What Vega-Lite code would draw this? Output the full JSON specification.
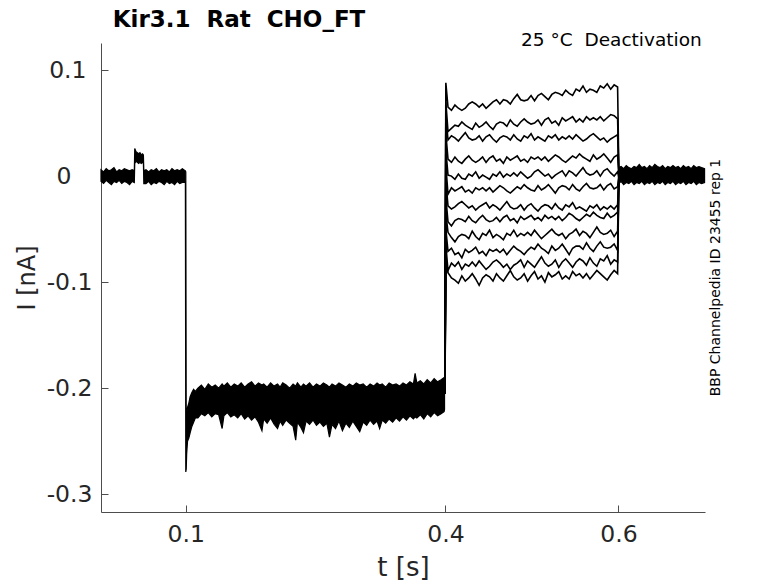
{
  "$schema": "https://vega.github.io/schema/vega-lite/v6.json",
  "width": 604,
  "height": 469,
  "autosize": {"type": "none"},
  "padding": {"left": 101, "top": 43, "right": 73, "bottom": 71},
  "background": "white",
  "config": {
    "view": {"stroke": null},
    "axis": {
      "grid": false,
      "domainColor": "#4d4d4d",
      "domainWidth": 1,
      "tickColor": "#4d4d4d",
      "tickWidth": 1,
      "tickSize": -7,
      "labelFont": "DejaVu Sans",
      "labelFontSize": 23.5,
      "labelColor": "#262626",
      "labelFlush": false,
      "labelOverlap": false,
      "titleFont": "DejaVu Sans",
      "titleFontSize": 24,
      "titleFontWeight": "normal",
      "titleColor": "#262626"
    },
    "axisX": {"labelPadding": 17, "titlePadding": 9, "titleFontSize": 26},
    "axisY": {"titlePadding": 7}
  },
  "datasets": {
    "band": [
      {"seg": "pre", "t": 0.002, "lo": -0.005, "hi": 0.006},
      {"seg": "pre", "t": 0.005, "lo": -0.007, "hi": 0.004},
      {"seg": "pre", "t": 0.008, "lo": -0.004, "hi": 0.007},
      {"seg": "pre", "t": 0.011, "lo": -0.006, "hi": 0.005},
      {"seg": "pre", "t": 0.014, "lo": -0.008, "hi": 0.006},
      {"seg": "pre", "t": 0.017, "lo": -0.005, "hi": 0.008},
      {"seg": "pre", "t": 0.020, "lo": -0.006, "hi": 0.004},
      {"seg": "pre", "t": 0.023, "lo": -0.004, "hi": 0.006},
      {"seg": "pre", "t": 0.026, "lo": -0.007, "hi": 0.005},
      {"seg": "pre", "t": 0.029, "lo": -0.005, "hi": 0.007},
      {"seg": "pre", "t": 0.032, "lo": -0.006, "hi": 0.006},
      {"seg": "pre", "t": 0.035, "lo": -0.008, "hi": 0.005},
      {"seg": "pre", "t": 0.038, "lo": -0.005, "hi": 0.006},
      {"seg": "pre", "t": 0.0405, "lo": -0.006, "hi": 0.005},
      {"seg": "pre", "t": 0.041, "lo": 0.012, "hi": 0.026},
      {"seg": "pre", "t": 0.0425, "lo": 0.014, "hi": 0.023},
      {"seg": "pre", "t": 0.044, "lo": 0.013, "hi": 0.022},
      {"seg": "pre", "t": 0.0455, "lo": 0.012, "hi": 0.021},
      {"seg": "pre", "t": 0.047, "lo": 0.013, "hi": 0.022},
      {"seg": "pre", "t": 0.0485, "lo": 0.012, "hi": 0.020},
      {"seg": "pre", "t": 0.050, "lo": 0.013, "hi": 0.021},
      {"seg": "pre", "t": 0.051, "lo": 0.012, "hi": 0.020},
      {"seg": "pre", "t": 0.0515, "lo": -0.007, "hi": 0.005},
      {"seg": "pre", "t": 0.054, "lo": -0.007, "hi": 0.006},
      {"seg": "pre", "t": 0.057, "lo": -0.005, "hi": 0.004},
      {"seg": "pre", "t": 0.060, "lo": -0.008, "hi": 0.006},
      {"seg": "pre", "t": 0.063, "lo": -0.006, "hi": 0.005},
      {"seg": "pre", "t": 0.066, "lo": -0.007, "hi": 0.007},
      {"seg": "pre", "t": 0.069, "lo": -0.005, "hi": 0.004},
      {"seg": "pre", "t": 0.072, "lo": -0.006, "hi": 0.006},
      {"seg": "pre", "t": 0.075, "lo": -0.008, "hi": 0.005},
      {"seg": "pre", "t": 0.078, "lo": -0.005, "hi": 0.006},
      {"seg": "pre", "t": 0.081, "lo": -0.007, "hi": 0.004},
      {"seg": "pre", "t": 0.084, "lo": -0.006, "hi": 0.007},
      {"seg": "pre", "t": 0.087, "lo": -0.008, "hi": 0.005},
      {"seg": "pre", "t": 0.090, "lo": -0.005, "hi": 0.006},
      {"seg": "pre", "t": 0.093, "lo": -0.007, "hi": 0.005},
      {"seg": "pre", "t": 0.096, "lo": -0.006, "hi": 0.007},
      {"seg": "pre", "t": 0.0995, "lo": -0.006, "hi": 0.005},
      {"seg": "pre", "t": 0.100, "lo": -0.279, "hi": 0.004},
      {"seg": "pre", "t": 0.1005, "lo": -0.276, "hi": -0.235},
      {"seg": "pre", "t": 0.101, "lo": -0.262, "hi": -0.224},
      {"seg": "pre", "t": 0.102, "lo": -0.250, "hi": -0.218},
      {"seg": "pre", "t": 0.1035, "lo": -0.247, "hi": -0.214},
      {"seg": "pre", "t": 0.105, "lo": -0.242, "hi": -0.208},
      {"seg": "pre", "t": 0.107, "lo": -0.236, "hi": -0.204},
      {"seg": "pre", "t": 0.109, "lo": -0.232, "hi": -0.201},
      {"seg": "pre", "t": 0.111, "lo": -0.228, "hi": -0.203},
      {"seg": "pre", "t": 0.114, "lo": -0.228, "hi": -0.200},
      {"seg": "pre", "t": 0.118, "lo": -0.224, "hi": -0.197},
      {"seg": "pre", "t": 0.122, "lo": -0.226, "hi": -0.201},
      {"seg": "pre", "t": 0.126, "lo": -0.223, "hi": -0.196},
      {"seg": "pre", "t": 0.130, "lo": -0.227, "hi": -0.199},
      {"seg": "pre", "t": 0.134, "lo": -0.224, "hi": -0.197},
      {"seg": "pre", "t": 0.138, "lo": -0.225, "hi": -0.200},
      {"seg": "pre", "t": 0.142, "lo": -0.238, "hi": -0.196},
      {"seg": "pre", "t": 0.144, "lo": -0.226, "hi": -0.198},
      {"seg": "pre", "t": 0.148, "lo": -0.223, "hi": -0.195},
      {"seg": "pre", "t": 0.152, "lo": -0.227, "hi": -0.199},
      {"seg": "pre", "t": 0.156, "lo": -0.225, "hi": -0.196},
      {"seg": "pre", "t": 0.160, "lo": -0.228, "hi": -0.198},
      {"seg": "pre", "t": 0.164, "lo": -0.224, "hi": -0.195},
      {"seg": "pre", "t": 0.168, "lo": -0.229, "hi": -0.199},
      {"seg": "pre", "t": 0.172, "lo": -0.226, "hi": -0.196},
      {"seg": "pre", "t": 0.176, "lo": -0.230, "hi": -0.194},
      {"seg": "pre", "t": 0.180, "lo": -0.227, "hi": -0.198},
      {"seg": "pre", "t": 0.184, "lo": -0.232, "hi": -0.195},
      {"seg": "pre", "t": 0.188, "lo": -0.240, "hi": -0.197},
      {"seg": "pre", "t": 0.190, "lo": -0.229, "hi": -0.196},
      {"seg": "pre", "t": 0.194, "lo": -0.233, "hi": -0.199},
      {"seg": "pre", "t": 0.198, "lo": -0.228, "hi": -0.195},
      {"seg": "pre", "t": 0.202, "lo": -0.234, "hi": -0.198},
      {"seg": "pre", "t": 0.206, "lo": -0.238, "hi": -0.196},
      {"seg": "pre", "t": 0.209, "lo": -0.231, "hi": -0.199},
      {"seg": "pre", "t": 0.212, "lo": -0.235, "hi": -0.195},
      {"seg": "pre", "t": 0.216, "lo": -0.230, "hi": -0.197},
      {"seg": "pre", "t": 0.220, "lo": -0.233, "hi": -0.200},
      {"seg": "pre", "t": 0.224, "lo": -0.236, "hi": -0.196},
      {"seg": "pre", "t": 0.227, "lo": -0.249, "hi": -0.198},
      {"seg": "pre", "t": 0.229, "lo": -0.232, "hi": -0.195},
      {"seg": "pre", "t": 0.233, "lo": -0.237, "hi": -0.199},
      {"seg": "pre", "t": 0.236, "lo": -0.242, "hi": -0.196},
      {"seg": "pre", "t": 0.239, "lo": -0.231, "hi": -0.198},
      {"seg": "pre", "t": 0.243, "lo": -0.234, "hi": -0.195},
      {"seg": "pre", "t": 0.247, "lo": -0.230, "hi": -0.199},
      {"seg": "pre", "t": 0.251, "lo": -0.235, "hi": -0.196},
      {"seg": "pre", "t": 0.255, "lo": -0.232, "hi": -0.198},
      {"seg": "pre", "t": 0.259, "lo": -0.236, "hi": -0.195},
      {"seg": "pre", "t": 0.263, "lo": -0.233, "hi": -0.197},
      {"seg": "pre", "t": 0.266, "lo": -0.246, "hi": -0.199},
      {"seg": "pre", "t": 0.269, "lo": -0.234, "hi": -0.196},
      {"seg": "pre", "t": 0.273, "lo": -0.238, "hi": -0.198},
      {"seg": "pre", "t": 0.277, "lo": -0.231, "hi": -0.195},
      {"seg": "pre", "t": 0.281, "lo": -0.240, "hi": -0.197},
      {"seg": "pre", "t": 0.285, "lo": -0.233, "hi": -0.199},
      {"seg": "pre", "t": 0.289, "lo": -0.237, "hi": -0.196},
      {"seg": "pre", "t": 0.293, "lo": -0.231, "hi": -0.198},
      {"seg": "pre", "t": 0.297, "lo": -0.236, "hi": -0.195},
      {"seg": "pre", "t": 0.301, "lo": -0.241, "hi": -0.197},
      {"seg": "pre", "t": 0.305, "lo": -0.232, "hi": -0.196},
      {"seg": "pre", "t": 0.309, "lo": -0.235, "hi": -0.199},
      {"seg": "pre", "t": 0.313, "lo": -0.230, "hi": -0.196},
      {"seg": "pre", "t": 0.317, "lo": -0.234, "hi": -0.198},
      {"seg": "pre", "t": 0.321, "lo": -0.231, "hi": -0.195},
      {"seg": "pre", "t": 0.324, "lo": -0.238, "hi": -0.197},
      {"seg": "pre", "t": 0.327, "lo": -0.230, "hi": -0.196},
      {"seg": "pre", "t": 0.331, "lo": -0.233, "hi": -0.199},
      {"seg": "pre", "t": 0.335, "lo": -0.229, "hi": -0.195},
      {"seg": "pre", "t": 0.339, "lo": -0.232, "hi": -0.197},
      {"seg": "pre", "t": 0.343, "lo": -0.228, "hi": -0.196},
      {"seg": "pre", "t": 0.347, "lo": -0.231, "hi": -0.198},
      {"seg": "pre", "t": 0.351, "lo": -0.227, "hi": -0.195},
      {"seg": "pre", "t": 0.355, "lo": -0.230, "hi": -0.197},
      {"seg": "pre", "t": 0.359, "lo": -0.226, "hi": -0.194},
      {"seg": "pre", "t": 0.363, "lo": -0.229, "hi": -0.196},
      {"seg": "pre", "t": 0.365, "lo": -0.227, "hi": -0.186},
      {"seg": "pre", "t": 0.367, "lo": -0.228, "hi": -0.195},
      {"seg": "pre", "t": 0.371, "lo": -0.225, "hi": -0.193},
      {"seg": "pre", "t": 0.375, "lo": -0.229, "hi": -0.196},
      {"seg": "pre", "t": 0.379, "lo": -0.224, "hi": -0.192},
      {"seg": "pre", "t": 0.383, "lo": -0.227, "hi": -0.195},
      {"seg": "pre", "t": 0.387, "lo": -0.223, "hi": -0.191},
      {"seg": "pre", "t": 0.391, "lo": -0.226, "hi": -0.194},
      {"seg": "pre", "t": 0.395, "lo": -0.224, "hi": -0.192},
      {"seg": "pre", "t": 0.3985, "lo": -0.222, "hi": -0.190},
      {"seg": "pre", "t": 0.399, "lo": -0.220, "hi": -0.190},
      {"seg": "post", "t": 0.6005, "lo": -0.007, "hi": 0.008},
      {"seg": "post", "t": 0.603, "lo": -0.005, "hi": 0.009},
      {"seg": "post", "t": 0.606, "lo": -0.008, "hi": 0.007},
      {"seg": "post", "t": 0.609, "lo": -0.006, "hi": 0.010},
      {"seg": "post", "t": 0.612, "lo": -0.007, "hi": 0.008},
      {"seg": "post", "t": 0.615, "lo": -0.005, "hi": 0.007},
      {"seg": "post", "t": 0.618, "lo": -0.008, "hi": 0.009},
      {"seg": "post", "t": 0.621, "lo": -0.006, "hi": 0.008},
      {"seg": "post", "t": 0.624, "lo": -0.007, "hi": 0.011},
      {"seg": "post", "t": 0.627, "lo": -0.005, "hi": 0.008},
      {"seg": "post", "t": 0.630, "lo": -0.008, "hi": 0.009},
      {"seg": "post", "t": 0.633, "lo": -0.006, "hi": 0.007},
      {"seg": "post", "t": 0.636, "lo": -0.007, "hi": 0.010},
      {"seg": "post", "t": 0.639, "lo": -0.005, "hi": 0.008},
      {"seg": "post", "t": 0.642, "lo": -0.008, "hi": 0.011},
      {"seg": "post", "t": 0.645, "lo": -0.006, "hi": 0.009},
      {"seg": "post", "t": 0.648, "lo": -0.007, "hi": 0.008},
      {"seg": "post", "t": 0.651, "lo": -0.005, "hi": 0.010},
      {"seg": "post", "t": 0.654, "lo": -0.008, "hi": 0.007},
      {"seg": "post", "t": 0.657, "lo": -0.006, "hi": 0.009},
      {"seg": "post", "t": 0.660, "lo": -0.007, "hi": 0.008},
      {"seg": "post", "t": 0.663, "lo": -0.005, "hi": 0.010},
      {"seg": "post", "t": 0.666, "lo": -0.008, "hi": 0.008},
      {"seg": "post", "t": 0.669, "lo": -0.006, "hi": 0.009},
      {"seg": "post", "t": 0.672, "lo": -0.007, "hi": 0.007},
      {"seg": "post", "t": 0.675, "lo": -0.005, "hi": 0.010},
      {"seg": "post", "t": 0.678, "lo": -0.008, "hi": 0.008},
      {"seg": "post", "t": 0.681, "lo": -0.006, "hi": 0.009},
      {"seg": "post", "t": 0.684, "lo": -0.007, "hi": 0.007},
      {"seg": "post", "t": 0.687, "lo": -0.005, "hi": 0.010},
      {"seg": "post", "t": 0.690, "lo": -0.008, "hi": 0.008},
      {"seg": "post", "t": 0.693, "lo": -0.006, "hi": 0.009},
      {"seg": "post", "t": 0.696, "lo": -0.007, "hi": 0.008},
      {"seg": "post", "t": 0.6995, "lo": -0.006, "hi": 0.007}
    ],
    "pulse": [
      {"k":1,"t":0.3995,"v":-0.205},{"k":1,"t":0.4005,"v":0.088},{"k":1,"t":0.403,"v":0.065},{"k":1,"t":0.407,"v":0.062},{"k":1,"t":0.411,"v":0.067},{"k":1,"t":0.415,"v":0.064},{"k":1,"t":0.419,"v":0.062},{"k":1,"t":0.423,"v":0.064},{"k":1,"t":0.427,"v":0.068},{"k":1,"t":0.431,"v":0.070},{"k":1,"t":0.435,"v":0.068},{"k":1,"t":0.439,"v":0.065},{"k":1,"t":0.443,"v":0.068},{"k":1,"t":0.447,"v":0.064},{"k":1,"t":0.451,"v":0.067},{"k":1,"t":0.455,"v":0.070},{"k":1,"t":0.459,"v":0.072},{"k":1,"t":0.463,"v":0.068},{"k":1,"t":0.467,"v":0.072},{"k":1,"t":0.471,"v":0.071},{"k":1,"t":0.475,"v":0.068},{"k":1,"t":0.479,"v":0.073},{"k":1,"t":0.483,"v":0.077},{"k":1,"t":0.487,"v":0.072},{"k":1,"t":0.491,"v":0.071},{"k":1,"t":0.495,"v":0.072},{"k":1,"t":0.499,"v":0.076},{"k":1,"t":0.503,"v":0.071},{"k":1,"t":0.507,"v":0.076},{"k":1,"t":0.511,"v":0.078},{"k":1,"t":0.515,"v":0.075},{"k":1,"t":0.519,"v":0.072},{"k":1,"t":0.523,"v":0.077},{"k":1,"t":0.527,"v":0.079},{"k":1,"t":0.531,"v":0.078},{"k":1,"t":0.535,"v":0.076},{"k":1,"t":0.539,"v":0.081},{"k":1,"t":0.543,"v":0.078},{"k":1,"t":0.547,"v":0.076},{"k":1,"t":0.551,"v":0.082},{"k":1,"t":0.555,"v":0.080},{"k":1,"t":0.559,"v":0.085},{"k":1,"t":0.563,"v":0.079},{"k":1,"t":0.567,"v":0.082},{"k":1,"t":0.571,"v":0.081},{"k":1,"t":0.575,"v":0.079},{"k":1,"t":0.579,"v":0.085},{"k":1,"t":0.583,"v":0.083},{"k":1,"t":0.587,"v":0.087},{"k":1,"t":0.591,"v":0.082},{"k":1,"t":0.595,"v":0.086},{"k":1,"t":0.599,"v":0.084},{"k":1,"t":0.6005,"v":0.001},
      {"k":2,"t":0.3995,"v":-0.205},{"k":2,"t":0.4005,"v":0.070},{"k":2,"t":0.403,"v":0.042},{"k":2,"t":0.407,"v":0.045},{"k":2,"t":0.411,"v":0.048},{"k":2,"t":0.415,"v":0.047},{"k":2,"t":0.419,"v":0.051},{"k":2,"t":0.423,"v":0.048},{"k":2,"t":0.427,"v":0.046},{"k":2,"t":0.431,"v":0.044},{"k":2,"t":0.435,"v":0.050},{"k":2,"t":0.439,"v":0.046},{"k":2,"t":0.443,"v":0.048},{"k":2,"t":0.447,"v":0.051},{"k":2,"t":0.451,"v":0.047},{"k":2,"t":0.455,"v":0.044},{"k":2,"t":0.459,"v":0.049},{"k":2,"t":0.463,"v":0.051},{"k":2,"t":0.467,"v":0.050},{"k":2,"t":0.471,"v":0.047},{"k":2,"t":0.475,"v":0.053},{"k":2,"t":0.479,"v":0.049},{"k":2,"t":0.483,"v":0.047},{"k":2,"t":0.487,"v":0.051},{"k":2,"t":0.491,"v":0.054},{"k":2,"t":0.495,"v":0.051},{"k":2,"t":0.499,"v":0.049},{"k":2,"t":0.503,"v":0.050},{"k":2,"t":0.507,"v":0.053},{"k":2,"t":0.511,"v":0.048},{"k":2,"t":0.515,"v":0.053},{"k":2,"t":0.519,"v":0.055},{"k":2,"t":0.523,"v":0.050},{"k":2,"t":0.527,"v":0.052},{"k":2,"t":0.531,"v":0.048},{"k":2,"t":0.535,"v":0.055},{"k":2,"t":0.539,"v":0.052},{"k":2,"t":0.543,"v":0.054},{"k":2,"t":0.547,"v":0.056},{"k":2,"t":0.551,"v":0.051},{"k":2,"t":0.555,"v":0.054},{"k":2,"t":0.559,"v":0.051},{"k":2,"t":0.563,"v":0.056},{"k":2,"t":0.567,"v":0.053},{"k":2,"t":0.571,"v":0.055},{"k":2,"t":0.575,"v":0.053},{"k":2,"t":0.579,"v":0.056},{"k":2,"t":0.583,"v":0.052},{"k":2,"t":0.587,"v":0.055},{"k":2,"t":0.591,"v":0.058},{"k":2,"t":0.595,"v":0.057},{"k":2,"t":0.599,"v":0.054},{"k":2,"t":0.6005,"v":-0.001},
      {"k":3,"t":0.3995,"v":-0.205},{"k":3,"t":0.4005,"v":0.058},{"k":3,"t":0.403,"v":0.034},{"k":3,"t":0.407,"v":0.038},{"k":3,"t":0.411,"v":0.036},{"k":3,"t":0.415,"v":0.033},{"k":3,"t":0.419,"v":0.037},{"k":3,"t":0.423,"v":0.041},{"k":3,"t":0.427,"v":0.036},{"k":3,"t":0.431,"v":0.034},{"k":3,"t":0.435,"v":0.035},{"k":3,"t":0.439,"v":0.038},{"k":3,"t":0.443,"v":0.033},{"k":3,"t":0.447,"v":0.037},{"k":3,"t":0.451,"v":0.039},{"k":3,"t":0.455,"v":0.035},{"k":3,"t":0.459,"v":0.032},{"k":3,"t":0.463,"v":0.036},{"k":3,"t":0.467,"v":0.038},{"k":3,"t":0.471,"v":0.037},{"k":3,"t":0.475,"v":0.034},{"k":3,"t":0.479,"v":0.039},{"k":3,"t":0.483,"v":0.035},{"k":3,"t":0.487,"v":0.033},{"k":3,"t":0.491,"v":0.038},{"k":3,"t":0.495,"v":0.036},{"k":3,"t":0.499,"v":0.040},{"k":3,"t":0.503,"v":0.034},{"k":3,"t":0.507,"v":0.037},{"k":3,"t":0.511,"v":0.035},{"k":3,"t":0.515,"v":0.033},{"k":3,"t":0.519,"v":0.038},{"k":3,"t":0.523,"v":0.036},{"k":3,"t":0.527,"v":0.039},{"k":3,"t":0.531,"v":0.034},{"k":3,"t":0.535,"v":0.037},{"k":3,"t":0.539,"v":0.035},{"k":3,"t":0.543,"v":0.038},{"k":3,"t":0.547,"v":0.035},{"k":3,"t":0.551,"v":0.039},{"k":3,"t":0.555,"v":0.036},{"k":3,"t":0.559,"v":0.033},{"k":3,"t":0.563,"v":0.035},{"k":3,"t":0.567,"v":0.038},{"k":3,"t":0.571,"v":0.040},{"k":3,"t":0.575,"v":0.037},{"k":3,"t":0.579,"v":0.034},{"k":3,"t":0.583,"v":0.036},{"k":3,"t":0.587,"v":0.032},{"k":3,"t":0.591,"v":0.035},{"k":3,"t":0.595,"v":0.037},{"k":3,"t":0.599,"v":0.039},{"k":3,"t":0.6005,"v":0.002},
      {"k":4,"t":0.3995,"v":-0.205},{"k":4,"t":0.4005,"v":0.040},{"k":4,"t":0.403,"v":0.016},{"k":4,"t":0.407,"v":0.013},{"k":4,"t":0.411,"v":0.018},{"k":4,"t":0.415,"v":0.014},{"k":4,"t":0.419,"v":0.012},{"k":4,"t":0.423,"v":0.016},{"k":4,"t":0.427,"v":0.019},{"k":4,"t":0.431,"v":0.015},{"k":4,"t":0.435,"v":0.013},{"k":4,"t":0.439,"v":0.015},{"k":4,"t":0.443,"v":0.018},{"k":4,"t":0.447,"v":0.013},{"k":4,"t":0.451,"v":0.017},{"k":4,"t":0.455,"v":0.019},{"k":4,"t":0.459,"v":0.014},{"k":4,"t":0.463,"v":0.016},{"k":4,"t":0.467,"v":0.012},{"k":4,"t":0.471,"v":0.018},{"k":4,"t":0.475,"v":0.015},{"k":4,"t":0.479,"v":0.017},{"k":4,"t":0.483,"v":0.019},{"k":4,"t":0.487,"v":0.014},{"k":4,"t":0.491,"v":0.016},{"k":4,"t":0.495,"v":0.013},{"k":4,"t":0.499,"v":0.018},{"k":4,"t":0.503,"v":0.016},{"k":4,"t":0.507,"v":0.018},{"k":4,"t":0.511,"v":0.015},{"k":4,"t":0.515,"v":0.018},{"k":4,"t":0.519,"v":0.014},{"k":4,"t":0.523,"v":0.017},{"k":4,"t":0.527,"v":0.020},{"k":4,"t":0.531,"v":0.018},{"k":4,"t":0.535,"v":0.015},{"k":4,"t":0.539,"v":0.013},{"k":4,"t":0.543,"v":0.016},{"k":4,"t":0.547,"v":0.019},{"k":4,"t":0.551,"v":0.017},{"k":4,"t":0.555,"v":0.021},{"k":4,"t":0.559,"v":0.018},{"k":4,"t":0.563,"v":0.016},{"k":4,"t":0.567,"v":0.014},{"k":4,"t":0.571,"v":0.020},{"k":4,"t":0.575,"v":0.016},{"k":4,"t":0.579,"v":0.018},{"k":4,"t":0.583,"v":0.021},{"k":4,"t":0.587,"v":0.017},{"k":4,"t":0.591,"v":0.013},{"k":4,"t":0.595,"v":0.018},{"k":4,"t":0.599,"v":0.020},{"k":4,"t":0.6005,"v":0.000},
      {"k":5,"t":0.3995,"v":-0.205},{"k":5,"t":0.4005,"v":0.025},{"k":5,"t":0.403,"v":0.001},{"k":5,"t":0.407,"v":0.000},{"k":5,"t":0.411,"v":-0.003},{"k":5,"t":0.415,"v":0.002},{"k":5,"t":0.419,"v":-0.002},{"k":5,"t":0.423,"v":-0.003},{"k":5,"t":0.427,"v":0.002},{"k":5,"t":0.431,"v":0.000},{"k":5,"t":0.435,"v":0.004},{"k":5,"t":0.439,"v":-0.002},{"k":5,"t":0.443,"v":0.001},{"k":5,"t":0.447,"v":-0.001},{"k":5,"t":0.451,"v":-0.003},{"k":5,"t":0.455,"v":0.002},{"k":5,"t":0.459,"v":0.000},{"k":5,"t":0.463,"v":0.004},{"k":5,"t":0.467,"v":-0.001},{"k":5,"t":0.471,"v":0.002},{"k":5,"t":0.475,"v":0.000},{"k":5,"t":0.479,"v":0.003},{"k":5,"t":0.483,"v":0.000},{"k":5,"t":0.487,"v":0.004},{"k":5,"t":0.491,"v":0.001},{"k":5,"t":0.495,"v":-0.002},{"k":5,"t":0.499,"v":0.000},{"k":5,"t":0.503,"v":0.004},{"k":5,"t":0.507,"v":0.006},{"k":5,"t":0.511,"v":0.003},{"k":5,"t":0.515,"v":0.000},{"k":5,"t":0.519,"v":0.002},{"k":5,"t":0.523,"v":-0.002},{"k":5,"t":0.527,"v":0.001},{"k":5,"t":0.531,"v":0.003},{"k":5,"t":0.535,"v":0.005},{"k":5,"t":0.539,"v":0.000},{"k":5,"t":0.543,"v":0.005},{"k":5,"t":0.547,"v":0.003},{"k":5,"t":0.551,"v":0.000},{"k":5,"t":0.555,"v":0.004},{"k":5,"t":0.559,"v":0.008},{"k":5,"t":0.563,"v":0.003},{"k":5,"t":0.567,"v":0.001},{"k":5,"t":0.571,"v":0.002},{"k":5,"t":0.575,"v":0.005},{"k":5,"t":0.579,"v":0.000},{"k":5,"t":0.583,"v":0.005},{"k":5,"t":0.587,"v":0.007},{"k":5,"t":0.591,"v":0.003},{"k":5,"t":0.595,"v":0.000},{"k":5,"t":0.599,"v":0.004},{"k":5,"t":0.6005,"v":-0.002},
      {"k":6,"t":0.3995,"v":-0.205},{"k":6,"t":0.4005,"v":0.010},{"k":6,"t":0.403,"v":-0.017},{"k":6,"t":0.407,"v":-0.011},{"k":6,"t":0.411,"v":-0.014},{"k":6,"t":0.415,"v":-0.012},{"k":6,"t":0.419,"v":-0.010},{"k":6,"t":0.423,"v":-0.015},{"k":6,"t":0.427,"v":-0.013},{"k":6,"t":0.431,"v":-0.016},{"k":6,"t":0.435,"v":-0.011},{"k":6,"t":0.439,"v":-0.013},{"k":6,"t":0.443,"v":-0.011},{"k":6,"t":0.447,"v":-0.014},{"k":6,"t":0.451,"v":-0.011},{"k":6,"t":0.455,"v":-0.015},{"k":6,"t":0.459,"v":-0.012},{"k":6,"t":0.463,"v":-0.009},{"k":6,"t":0.467,"v":-0.011},{"k":6,"t":0.471,"v":-0.014},{"k":6,"t":0.475,"v":-0.016},{"k":6,"t":0.479,"v":-0.013},{"k":6,"t":0.483,"v":-0.010},{"k":6,"t":0.487,"v":-0.012},{"k":6,"t":0.491,"v":-0.008},{"k":6,"t":0.495,"v":-0.011},{"k":6,"t":0.499,"v":-0.013},{"k":6,"t":0.503,"v":-0.014},{"k":6,"t":0.507,"v":-0.009},{"k":6,"t":0.511,"v":-0.013},{"k":6,"t":0.515,"v":-0.011},{"k":6,"t":0.519,"v":-0.008},{"k":6,"t":0.523,"v":-0.012},{"k":6,"t":0.527,"v":-0.016},{"k":6,"t":0.531,"v":-0.011},{"k":6,"t":0.535,"v":-0.009},{"k":6,"t":0.539,"v":-0.010},{"k":6,"t":0.543,"v":-0.013},{"k":6,"t":0.547,"v":-0.008},{"k":6,"t":0.551,"v":-0.012},{"k":6,"t":0.555,"v":-0.014},{"k":6,"t":0.559,"v":-0.010},{"k":6,"t":0.563,"v":-0.007},{"k":6,"t":0.567,"v":-0.011},{"k":6,"t":0.571,"v":-0.012},{"k":6,"t":0.575,"v":-0.011},{"k":6,"t":0.579,"v":-0.008},{"k":6,"t":0.583,"v":-0.013},{"k":6,"t":0.587,"v":-0.009},{"k":6,"t":0.591,"v":-0.007},{"k":6,"t":0.595,"v":-0.012},{"k":6,"t":0.599,"v":-0.010},{"k":6,"t":0.6005,"v":0.001},
      {"k":7,"t":0.3995,"v":-0.205},{"k":7,"t":0.4005,"v":-0.005},{"k":7,"t":0.403,"v":-0.028},{"k":7,"t":0.407,"v":-0.031},{"k":7,"t":0.411,"v":-0.029},{"k":7,"t":0.415,"v":-0.026},{"k":7,"t":0.419,"v":-0.024},{"k":7,"t":0.423,"v":-0.027},{"k":7,"t":0.427,"v":-0.030},{"k":7,"t":0.431,"v":-0.028},{"k":7,"t":0.435,"v":-0.032},{"k":7,"t":0.439,"v":-0.029},{"k":7,"t":0.443,"v":-0.027},{"k":7,"t":0.447,"v":-0.025},{"k":7,"t":0.451,"v":-0.030},{"k":7,"t":0.455,"v":-0.027},{"k":7,"t":0.459,"v":-0.029},{"k":7,"t":0.463,"v":-0.032},{"k":7,"t":0.467,"v":-0.028},{"k":7,"t":0.471,"v":-0.024},{"k":7,"t":0.475,"v":-0.029},{"k":7,"t":0.479,"v":-0.031},{"k":7,"t":0.483,"v":-0.030},{"k":7,"t":0.487,"v":-0.027},{"k":7,"t":0.491,"v":-0.032},{"k":7,"t":0.495,"v":-0.028},{"k":7,"t":0.499,"v":-0.026},{"k":7,"t":0.503,"v":-0.030},{"k":7,"t":0.507,"v":-0.033},{"k":7,"t":0.511,"v":-0.029},{"k":7,"t":0.515,"v":-0.027},{"k":7,"t":0.519,"v":-0.028},{"k":7,"t":0.523,"v":-0.031},{"k":7,"t":0.527,"v":-0.026},{"k":7,"t":0.531,"v":-0.030},{"k":7,"t":0.535,"v":-0.032},{"k":7,"t":0.539,"v":-0.027},{"k":7,"t":0.543,"v":-0.029},{"k":7,"t":0.547,"v":-0.025},{"k":7,"t":0.551,"v":-0.031},{"k":7,"t":0.555,"v":-0.029},{"k":7,"t":0.559,"v":-0.031},{"k":7,"t":0.563,"v":-0.033},{"k":7,"t":0.567,"v":-0.028},{"k":7,"t":0.571,"v":-0.030},{"k":7,"t":0.575,"v":-0.027},{"k":7,"t":0.579,"v":-0.032},{"k":7,"t":0.583,"v":-0.029},{"k":7,"t":0.587,"v":-0.031},{"k":7,"t":0.591,"v":-0.028},{"k":7,"t":0.595,"v":-0.031},{"k":7,"t":0.599,"v":-0.027},{"k":7,"t":0.6005,"v":0.000},
      {"k":8,"t":0.3995,"v":-0.205},{"k":8,"t":0.4005,"v":-0.020},{"k":8,"t":0.403,"v":-0.043},{"k":8,"t":0.407,"v":-0.047},{"k":8,"t":0.411,"v":-0.042},{"k":8,"t":0.415,"v":-0.040},{"k":8,"t":0.419,"v":-0.041},{"k":8,"t":0.423,"v":-0.043},{"k":8,"t":0.427,"v":-0.038},{"k":8,"t":0.431,"v":-0.042},{"k":8,"t":0.435,"v":-0.044},{"k":8,"t":0.439,"v":-0.040},{"k":8,"t":0.443,"v":-0.037},{"k":8,"t":0.447,"v":-0.041},{"k":8,"t":0.451,"v":-0.043},{"k":8,"t":0.455,"v":-0.042},{"k":8,"t":0.459,"v":-0.039},{"k":8,"t":0.463,"v":-0.043},{"k":8,"t":0.467,"v":-0.039},{"k":8,"t":0.471,"v":-0.037},{"k":8,"t":0.475,"v":-0.042},{"k":8,"t":0.479,"v":-0.040},{"k":8,"t":0.483,"v":-0.044},{"k":8,"t":0.487,"v":-0.038},{"k":8,"t":0.491,"v":-0.041},{"k":8,"t":0.495,"v":-0.039},{"k":8,"t":0.499,"v":-0.037},{"k":8,"t":0.503,"v":-0.041},{"k":8,"t":0.507,"v":-0.039},{"k":8,"t":0.511,"v":-0.042},{"k":8,"t":0.515,"v":-0.037},{"k":8,"t":0.519,"v":-0.040},{"k":8,"t":0.523,"v":-0.038},{"k":8,"t":0.527,"v":-0.041},{"k":8,"t":0.531,"v":-0.038},{"k":8,"t":0.535,"v":-0.042},{"k":8,"t":0.539,"v":-0.039},{"k":8,"t":0.543,"v":-0.035},{"k":8,"t":0.547,"v":-0.037},{"k":8,"t":0.551,"v":-0.040},{"k":8,"t":0.555,"v":-0.042},{"k":8,"t":0.559,"v":-0.039},{"k":8,"t":0.563,"v":-0.036},{"k":8,"t":0.567,"v":-0.038},{"k":8,"t":0.571,"v":-0.034},{"k":8,"t":0.575,"v":-0.037},{"k":8,"t":0.579,"v":-0.039},{"k":8,"t":0.583,"v":-0.040},{"k":8,"t":0.587,"v":-0.035},{"k":8,"t":0.591,"v":-0.039},{"k":8,"t":0.595,"v":-0.037},{"k":8,"t":0.599,"v":-0.034},{"k":8,"t":0.6005,"v":-0.001},
      {"k":9,"t":0.3995,"v":-0.205},{"k":9,"t":0.4005,"v":-0.035},{"k":9,"t":0.403,"v":-0.053},{"k":9,"t":0.407,"v":-0.058},{"k":9,"t":0.411,"v":-0.062},{"k":9,"t":0.415,"v":-0.057},{"k":9,"t":0.419,"v":-0.055},{"k":9,"t":0.423,"v":-0.056},{"k":9,"t":0.427,"v":-0.059},{"k":9,"t":0.431,"v":-0.052},{"k":9,"t":0.435,"v":-0.057},{"k":9,"t":0.439,"v":-0.060},{"k":9,"t":0.443,"v":-0.054},{"k":9,"t":0.447,"v":-0.056},{"k":9,"t":0.451,"v":-0.051},{"k":9,"t":0.455,"v":-0.058},{"k":9,"t":0.459,"v":-0.055},{"k":9,"t":0.463,"v":-0.057},{"k":9,"t":0.467,"v":-0.060},{"k":9,"t":0.471,"v":-0.054},{"k":9,"t":0.475,"v":-0.056},{"k":9,"t":0.479,"v":-0.051},{"k":9,"t":0.483,"v":-0.057},{"k":9,"t":0.487,"v":-0.054},{"k":9,"t":0.491,"v":-0.056},{"k":9,"t":0.495,"v":-0.053},{"k":9,"t":0.499,"v":-0.056},{"k":9,"t":0.503,"v":-0.051},{"k":9,"t":0.507,"v":-0.055},{"k":9,"t":0.511,"v":-0.059},{"k":9,"t":0.515,"v":-0.056},{"k":9,"t":0.519,"v":-0.053},{"k":9,"t":0.523,"v":-0.050},{"k":9,"t":0.527,"v":-0.054},{"k":9,"t":0.531,"v":-0.056},{"k":9,"t":0.535,"v":-0.054},{"k":9,"t":0.539,"v":-0.059},{"k":9,"t":0.543,"v":-0.055},{"k":9,"t":0.547,"v":-0.053},{"k":9,"t":0.551,"v":-0.050},{"k":9,"t":0.555,"v":-0.056},{"k":9,"t":0.559,"v":-0.052},{"k":9,"t":0.563,"v":-0.054},{"k":9,"t":0.567,"v":-0.058},{"k":9,"t":0.571,"v":-0.053},{"k":9,"t":0.575,"v":-0.048},{"k":9,"t":0.579,"v":-0.053},{"k":9,"t":0.583,"v":-0.055},{"k":9,"t":0.587,"v":-0.054},{"k":9,"t":0.591,"v":-0.051},{"k":9,"t":0.595,"v":-0.057},{"k":9,"t":0.599,"v":-0.052},{"k":9,"t":0.6005,"v":0.002},
      {"k":10,"t":0.3995,"v":-0.205},{"k":10,"t":0.4005,"v":-0.050},{"k":10,"t":0.403,"v":-0.071},{"k":10,"t":0.407,"v":-0.068},{"k":10,"t":0.411,"v":-0.074},{"k":10,"t":0.415,"v":-0.072},{"k":10,"t":0.419,"v":-0.077},{"k":10,"t":0.423,"v":-0.069},{"k":10,"t":0.427,"v":-0.072},{"k":10,"t":0.431,"v":-0.070},{"k":10,"t":0.435,"v":-0.067},{"k":10,"t":0.439,"v":-0.073},{"k":10,"t":0.443,"v":-0.071},{"k":10,"t":0.447,"v":-0.075},{"k":10,"t":0.451,"v":-0.069},{"k":10,"t":0.455,"v":-0.071},{"k":10,"t":0.459,"v":-0.069},{"k":10,"t":0.463,"v":-0.072},{"k":10,"t":0.467,"v":-0.069},{"k":10,"t":0.471,"v":-0.074},{"k":10,"t":0.475,"v":-0.070},{"k":10,"t":0.479,"v":-0.066},{"k":10,"t":0.483,"v":-0.069},{"k":10,"t":0.487,"v":-0.071},{"k":10,"t":0.491,"v":-0.074},{"k":10,"t":0.495,"v":-0.070},{"k":10,"t":0.499,"v":-0.067},{"k":10,"t":0.503,"v":-0.069},{"k":10,"t":0.507,"v":-0.064},{"k":10,"t":0.511,"v":-0.068},{"k":10,"t":0.515,"v":-0.070},{"k":10,"t":0.519,"v":-0.073},{"k":10,"t":0.523,"v":-0.066},{"k":10,"t":0.527,"v":-0.070},{"k":10,"t":0.531,"v":-0.068},{"k":10,"t":0.535,"v":-0.064},{"k":10,"t":0.539,"v":-0.069},{"k":10,"t":0.543,"v":-0.074},{"k":10,"t":0.547,"v":-0.068},{"k":10,"t":0.551,"v":-0.066},{"k":10,"t":0.555,"v":-0.066},{"k":10,"t":0.559,"v":-0.069},{"k":10,"t":0.563,"v":-0.063},{"k":10,"t":0.567,"v":-0.068},{"k":10,"t":0.571,"v":-0.071},{"k":10,"t":0.575,"v":-0.066},{"k":10,"t":0.579,"v":-0.062},{"k":10,"t":0.583,"v":-0.067},{"k":10,"t":0.587,"v":-0.068},{"k":10,"t":0.591,"v":-0.067},{"k":10,"t":0.595,"v":-0.064},{"k":10,"t":0.599,"v":-0.070},{"k":10,"t":0.6005,"v":-0.001},
      {"k":11,"t":0.3995,"v":-0.205},{"k":11,"t":0.4005,"v":-0.065},{"k":11,"t":0.403,"v":-0.089},{"k":11,"t":0.407,"v":-0.082},{"k":11,"t":0.411,"v":-0.085},{"k":11,"t":0.415,"v":-0.081},{"k":11,"t":0.419,"v":-0.088},{"k":11,"t":0.423,"v":-0.083},{"k":11,"t":0.427,"v":-0.085},{"k":11,"t":0.431,"v":-0.081},{"k":11,"t":0.435,"v":-0.085},{"k":11,"t":0.439,"v":-0.080},{"k":11,"t":0.443,"v":-0.084},{"k":11,"t":0.447,"v":-0.088},{"k":11,"t":0.451,"v":-0.085},{"k":11,"t":0.455,"v":-0.081},{"k":11,"t":0.459,"v":-0.079},{"k":11,"t":0.463,"v":-0.082},{"k":11,"t":0.467,"v":-0.086},{"k":11,"t":0.471,"v":-0.083},{"k":11,"t":0.475,"v":-0.088},{"k":11,"t":0.479,"v":-0.084},{"k":11,"t":0.483,"v":-0.082},{"k":11,"t":0.487,"v":-0.079},{"k":11,"t":0.491,"v":-0.086},{"k":11,"t":0.495,"v":-0.080},{"k":11,"t":0.499,"v":-0.083},{"k":11,"t":0.503,"v":-0.086},{"k":11,"t":0.507,"v":-0.081},{"k":11,"t":0.511,"v":-0.076},{"k":11,"t":0.515,"v":-0.082},{"k":11,"t":0.519,"v":-0.085},{"k":11,"t":0.523,"v":-0.083},{"k":11,"t":0.527,"v":-0.079},{"k":11,"t":0.531,"v":-0.086},{"k":11,"t":0.535,"v":-0.081},{"k":11,"t":0.539,"v":-0.078},{"k":11,"t":0.543,"v":-0.082},{"k":11,"t":0.547,"v":-0.086},{"k":11,"t":0.551,"v":-0.081},{"k":11,"t":0.555,"v":-0.078},{"k":11,"t":0.559,"v":-0.080},{"k":11,"t":0.563,"v":-0.084},{"k":11,"t":0.567,"v":-0.077},{"k":11,"t":0.571,"v":-0.082},{"k":11,"t":0.575,"v":-0.085},{"k":11,"t":0.579,"v":-0.078},{"k":11,"t":0.583,"v":-0.080},{"k":11,"t":0.587,"v":-0.075},{"k":11,"t":0.591,"v":-0.083},{"k":11,"t":0.595,"v":-0.079},{"k":11,"t":0.599,"v":-0.081},{"k":11,"t":0.6005,"v":0.001},
      {"k":12,"t":0.3995,"v":-0.205},{"k":12,"t":0.4005,"v":-0.080},{"k":12,"t":0.403,"v":-0.091},{"k":12,"t":0.407,"v":-0.096},{"k":12,"t":0.411,"v":-0.098},{"k":12,"t":0.415,"v":-0.101},{"k":12,"t":0.419,"v":-0.094},{"k":12,"t":0.423,"v":-0.099},{"k":12,"t":0.427,"v":-0.096},{"k":12,"t":0.431,"v":-0.092},{"k":12,"t":0.435,"v":-0.097},{"k":12,"t":0.439,"v":-0.103},{"k":12,"t":0.443,"v":-0.096},{"k":12,"t":0.447,"v":-0.093},{"k":12,"t":0.451,"v":-0.095},{"k":12,"t":0.455,"v":-0.099},{"k":12,"t":0.459,"v":-0.092},{"k":12,"t":0.463,"v":-0.096},{"k":12,"t":0.467,"v":-0.099},{"k":12,"t":0.471,"v":-0.094},{"k":12,"t":0.475,"v":-0.089},{"k":12,"t":0.479,"v":-0.095},{"k":12,"t":0.483,"v":-0.098},{"k":12,"t":0.487,"v":-0.096},{"k":12,"t":0.491,"v":-0.092},{"k":12,"t":0.495,"v":-0.099},{"k":12,"t":0.499,"v":-0.094},{"k":12,"t":0.503,"v":-0.090},{"k":12,"t":0.507,"v":-0.097},{"k":12,"t":0.511,"v":-0.094},{"k":12,"t":0.515,"v":-0.100},{"k":12,"t":0.519,"v":-0.091},{"k":12,"t":0.523,"v":-0.095},{"k":12,"t":0.527,"v":-0.093},{"k":12,"t":0.531,"v":-0.090},{"k":12,"t":0.535,"v":-0.097},{"k":12,"t":0.539,"v":-0.094},{"k":12,"t":0.543,"v":-0.097},{"k":12,"t":0.547,"v":-0.090},{"k":12,"t":0.551,"v":-0.094},{"k":12,"t":0.555,"v":-0.092},{"k":12,"t":0.559,"v":-0.096},{"k":12,"t":0.563,"v":-0.092},{"k":12,"t":0.567,"v":-0.097},{"k":12,"t":0.571,"v":-0.093},{"k":12,"t":0.575,"v":-0.089},{"k":12,"t":0.579,"v":-0.092},{"k":12,"t":0.583,"v":-0.095},{"k":12,"t":0.587,"v":-0.098},{"k":12,"t":0.591,"v":-0.093},{"k":12,"t":0.595,"v":-0.089},{"k":12,"t":0.599,"v":-0.092},{"k":12,"t":0.6005,"v":0.000}
    ]
  },
  "layer": [
    {
      "data": {"name": "band"},
      "mark": {"type": "area", "color": "black", "stroke": "black", "strokeWidth": 1.2, "opacity": 1},
      "encoding": {
        "x": {
          "field": "t",
          "type": "quantitative",
          "title": "t [s]",
          "scale": {"domain": [0.002, 0.7], "nice": false, "zero": false},
          "axis": {"values": [0.1, 0.4, 0.6], "format": ".1f"}
        },
        "y": {
          "field": "lo",
          "type": "quantitative",
          "title": "I [nA]",
          "scale": {"domain": [-0.3167, 0.1255], "nice": false, "zero": false},
          "axis": {
            "values": [-0.3, -0.2, -0.1, 0, 0.1],
            "labelExpr": "datum.value == 0 ? '0' : (datum.value < 0 ? '-' + format(-datum.value, '.1f') : format(datum.value, '.1f'))",
            "labelPadding": {
              "condition": [
                {"test": "datum.value == 0", "value": 37},
                {"test": "datum.value > 0.05", "value": 22}
              ],
              "value": 16
            }
          }
        },
        "y2": {"field": "hi"},
        "detail": {"field": "seg"}
      }
    },
    {
      "data": {"name": "pulse"},
      "mark": {"type": "line", "color": "black", "strokeWidth": 1.6},
      "encoding": {
        "x": {"field": "t", "type": "quantitative", "title": "t [s]"},
        "y": {"field": "v", "type": "quantitative", "title": "I [nA]"},
        "detail": {"field": "k"}
      }
    },
    {
      "data": {"values": [{"note": "Kir3.1 \u00a0Rat \u00a0CHO_FT"}]},
      "mark": {"type": "text", "align": "left", "baseline": "alphabetic", "font": "DejaVu Sans", "fontSize": 23, "fontWeight": "bold", "color": "#000000", "clip": false},
      "encoding": {
        "x": {"datum": 0.0155, "title": "t [s]"},
        "y": {"datum": 0.1409, "title": "I [nA]"},
        "text": {"field": "note"}
      }
    },
    {
      "data": {"values": [{"note": "25 °C \u00a0Deactivation"}]},
      "mark": {"type": "text", "align": "right", "baseline": "alphabetic", "font": "DejaVu Sans", "fontSize": 18.5, "color": "#000000"},
      "encoding": {
        "x": {"datum": 0.6962, "title": "t [s]"},
        "y": {"datum": 0.1223, "title": "I [nA]"},
        "text": {"field": "note"}
      }
    },
    {
      "data": {"values": [{"note": "BBP Channelpedia ID 23455 rep 1"}]},
      "mark": {"type": "text", "align": "center", "baseline": "alphabetic", "angle": 270, "font": "DejaVu Sans", "fontSize": 14, "color": "#000000", "clip": false},
      "encoding": {
        "x": {"datum": 0.7176, "title": "t [s]"},
        "y": {"datum": -0.0956, "title": "I [nA]"},
        "text": {"field": "note"}
      }
    }
  ]
}
